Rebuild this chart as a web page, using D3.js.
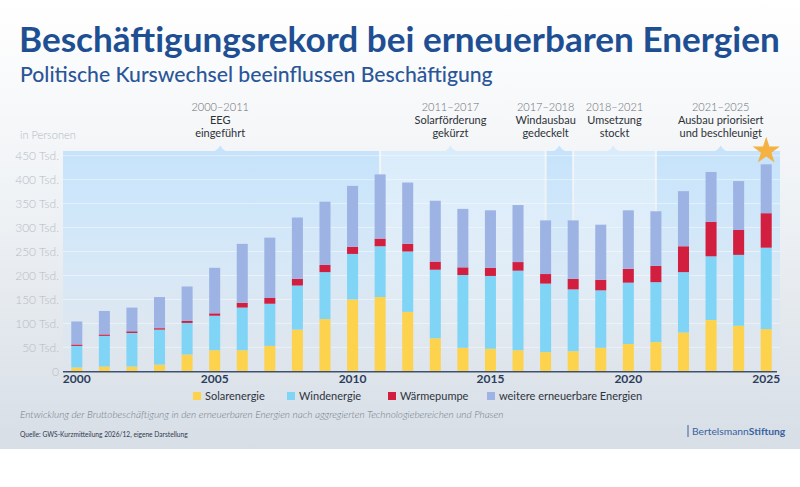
<!DOCTYPE html>
<html>
<head>
<meta charset="utf-8">
<script src="https://cdn.jsdelivr.net/npm/d3@7"></script>
<style>
  html, body { margin: 0; padding: 0; background: #fff; }
  svg { display: block; font-family: Lato, "Open Sans", sans-serif; }
</style>
</head>
<body>
<svg id="chart" width="800" height="487"></svg>
<script>
// values in thousand persons
const years = d3.range(2000, 2026);
const solar = [8, 10, 10, 14, 35, 44, 44, 53, 87, 109, 150, 155, 124, 69, 49, 47, 44, 40, 42, 49, 57, 61, 81, 107, 95, 88];
const wind = [45, 64, 70, 73, 66, 72, 89, 88, 92, 98, 95, 106, 126, 143, 152, 152, 166, 143, 129, 120, 128, 125, 126, 133, 148, 170];
const heatPump = [3, 3, 3.5, 3, 4, 5, 10, 12, 14, 15, 15, 16, 16, 17, 16, 17, 18, 20, 22, 22, 29, 34, 54, 72, 52, 72];
const other = [48, 49, 49.5, 65, 72, 95, 123, 126, 128, 132, 127, 134, 128, 127, 122, 120, 119, 112, 122, 115, 122, 114, 115, 104, 102, 102];

const seriesNames = ['Solarenergie', 'Windenergie', 'Wärmepumpe', 'weitere erneuerbare Energien'];
const seriesColors = ['#fdd34d', '#80d4f6', '#d21f40', '#9db3e4'];

const yTicks = [0, 50, 100, 150, 200, 250, 300, 350, 400, 450];
const xTicks = [2000, 2005, 2010, 2015, 2020, 2025];

// phases: start/end year, where the label and the notch sit, label lines
const phaseStart = [2000, 2011, 2017, 2018, 2021];
const phaseEnd = [2011, 2017, 2018, 2021, 2025];
const phaseLabelAt = [2005.2, 2013.55, 2017.0, 2019.5, 2023.35];
const phaseNotchAt = [2005.2, 2013.55, 2017.5, 2019.45, 2023.35];
const phaseYears = ['2000–2011', '2011–2017', '2017–2018', '2018–2021', '2021–2025'];
const phaseText = [['EEG', 'eingeführt'], ['Solarförderung', 'gekürzt'], ['Windausbau', 'gedeckelt'], ['Umsetzung', 'stockt'], ['Ausbau priorisiert', 'und beschleunigt']];

const svg = d3.select('#chart');
const W = 800, H = 487;
const plot = {left: 63, right: 780, top: 151, bottom: 371.3};

const defs = svg.append('defs');
const bg = defs.append('linearGradient').attr('id', 'bg').attr('x1', 0).attr('x2', 0).attr('y1', 0).attr('y2', 1);
bg.append('stop').attr('offset', '0%').attr('stop-color', '#ffffff');
bg.append('stop').attr('offset', '45%').attr('stop-color', '#eff2f5');
bg.append('stop').attr('offset', '100%').attr('stop-color', '#d7dee6');

svg.append('rect').attr('width', W).attr('height', 449).attr('fill', 'url(#bg)');

// scales
const x = d3.scaleBand().domain(years).range([plot.left, plot.right]).paddingInner(0.6).paddingOuter(0.3);
const xc = yr => plot.left + x.step() * 0.3 + x.bandwidth() / 2 + (yr - 2000) * x.step();
const y = d3.scaleLinear().domain([0, 450]).range([plot.bottom, plot.bottom - 215.6]);

// phase bands
const strong = [true, false, true, false, true];
phaseStart.forEach((s, i) => {
  const g = defs.append('linearGradient').attr('id', 'band' + i)
    .attr('x1', 0).attr('x2', 0).attr('y1', 0).attr('y2', 1);
  const col = strong[i] ? '#c6e3fb' : '#d9ecfb';
  g.append('stop').attr('offset', '0%').attr('stop-color', col).attr('stop-opacity', 1);
  g.append('stop').attr('offset', '35%').attr('stop-color', col).attr('stop-opacity', 0.7);
  g.append('stop').attr('offset', '100%').attr('stop-color', col).attr('stop-opacity', 0);
});

const bands = svg.append('g');
phaseStart.forEach((s, i) => {
  const x0 = i === 0 ? plot.left : xc(s) + 1;
  const x1 = i === phaseStart.length - 1 ? plot.right : xc(phaseEnd[i]) - 1;
  bands.append('rect')
    .attr('x', x0).attr('y', plot.top)
    .attr('width', x1 - x0).attr('height', plot.bottom - plot.top)
    .attr('fill', `url(#band${i})`);
  const nx = xc(phaseNotchAt[i]);
  const col = strong[i] ? '#c6e3fb' : '#d9ecfb';
  bands.append('path')
    .attr('d', `M${nx - 8},${plot.top + 0.5} Q${nx - 3},${plot.top} ${nx},${plot.top - 5.5} Q${nx + 3},${plot.top} ${nx + 8},${plot.top + 0.5} Z`)
    .attr('fill', col);
  const lx = xc(phaseLabelAt[i]);
  const t = svg.append('text')
    .attr('x', lx).attr('text-anchor', 'middle')
    .attr('font-size', 11);
  t.append('tspan').attr('x', lx).attr('y', 111).attr('fill', '#6b6f75').attr('font-weight', 300).text(phaseYears[i]);
  phaseText[i].forEach((line, j) => {
    t.append('tspan').attr('x', lx).attr('y', 124 + j * 12.5).attr('fill', '#2e3238').text(line);
  });
});

// gridlines
svg.append('g').selectAll('line').data(yTicks.slice(1)).join('line')
  .attr('x1', plot.left).attr('x2', plot.right)
  .attr('y1', d => y(d)).attr('y2', d => y(d))
  .attr('stroke', '#ffffff').attr('stroke-opacity', 0.45).attr('stroke-width', 1);

// y labels
svg.append('text').attr('x', 20).attr('y', 139).attr('font-size', 11)
  .attr('fill', '#b3b9c2').attr('font-weight', 300).text('in Personen');
svg.append('g').selectAll('text').data(yTicks).join('text')
  .attr('x', 59).attr('y', d => y(d)).attr('dy', '0.35em')
  .attr('text-anchor', 'end').attr('font-size', 12)
  .attr('fill', '#b6bcc5').attr('font-weight', 300)
  .text(d => d === 0 ? '0' : `${d} Tsd.`);

// stacked bars
const rows = years.map((yr, i) => ({year: yr, s0: solar[i], s1: wind[i], s2: heatPump[i], s3: other[i]}));
const stack = d3.stack().keys(['s0', 's1', 's2', 's3'])(rows);
svg.append('g').selectAll('g').data(stack).join('g')
  .attr('fill', (d, i) => seriesColors[i])
  .selectAll('rect').data(d => d).join('rect')
  .attr('x', d => x(d.data.year))
  .attr('width', x.bandwidth())
  .attr('y', d => y(d[1]))
  .attr('height', d => y(d[0]) - y(d[1]));

// x axis
svg.append('line').attr('x1', plot.left).attr('x2', 777)
  .attr('y1', plot.bottom + 0.5).attr('y2', plot.bottom + 0.5)
  .attr('stroke', '#3e5070').attr('stroke-width', 1.5);
svg.append('g').selectAll('text').data(xTicks).join('text')
  .attr('x', d => xc(d)).attr('y', 383).attr('text-anchor', 'middle')
  .attr('font-size', 12).attr('font-weight', 700).attr('fill', '#2c3d5c')
  .text(d => d);

// star on the record year
const star = d3.symbol().type(d3.symbolStar).size(230);
svg.append('path').attr('d', star())
  .attr('transform', `translate(${xc(2025)},151)`)
  .attr('fill', '#f5b141');

// fit a text to the width it has in the original
function fit(sel, size, width) {
  sel.attr('font-size', size);
  sel.attr('font-size', size * width / sel.node().getComputedTextLength());
}

const title = svg.append('text').attr('x', 19).attr('y', 52).attr('font-weight', 700)
  .attr('fill', '#1f4f93').text('Beschäftigungsrekord bei erneuerbaren Energien');
fit(title, 36, 761);
const sub = svg.append('text').attr('x', 20).attr('y', 82).attr('font-weight', 500)
  .attr('fill', '#2a5698').text('Politische Kurswechsel beeinflussen Beschäftigung');
fit(sub, 20, 473);

// legend
const legX = [193, 287, 388, 487];
const leg = svg.append('g').selectAll('g').data(seriesNames).join('g')
  .attr('transform', (d, i) => `translate(${legX[i]},392)`);
leg.append('rect').attr('width', 8).attr('height', 8).attr('fill', (d, i) => seriesColors[i]);
leg.append('text').attr('x', 12).attr('y', 4).attr('dy', '0.35em')
  .attr('font-size', 11).attr('fill', '#2e3440').text(d => d);

// caption + source
const cap = svg.append('text').attr('x', 20).attr('y', 418).attr('font-style', 'italic')
  .attr('font-weight', 300).attr('fill', '#747c88')
  .text('Entwicklung der Bruttobeschäftigung in den erneuerbaren Energien nach aggregierten Technologiebereichen und Phasen');
fit(cap, 10.5, 484);
const src = svg.append('text').attr('x', 20).attr('y', 437)
  .attr('fill', '#2f3a50')
  .text('Quelle: GWS-Kurzmitteilung 2026/12, eigene Darstellung');
fit(src, 7, 168);

// logo text
svg.append('line').attr('x1', 688).attr('x2', 688).attr('y1', 425).attr('y2', 437)
  .attr('stroke', '#3a62a0').attr('stroke-width', 1);
const logo = svg.append('text').attr('x', 692).attr('y', 435).attr('font-size', 10.3).attr('fill', '#3a62a0');
logo.append('tspan').text('Bertelsmann');
logo.append('tspan').attr('font-weight', 700).text('Stiftung');
</script>
</body>
</html>
